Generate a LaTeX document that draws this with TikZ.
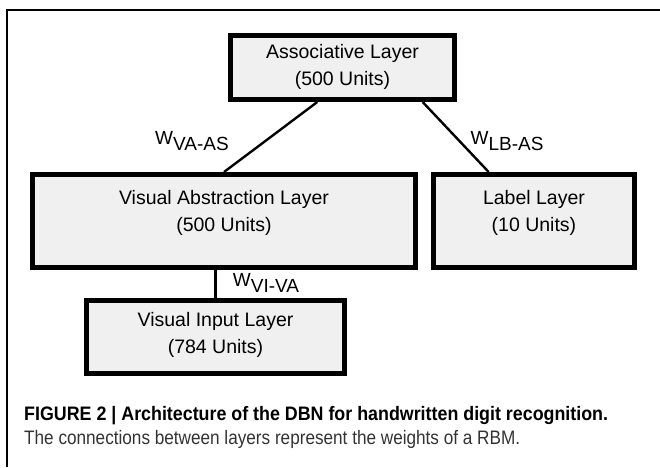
\documentclass[tikz,border=0pt]{standalone}
\usepackage{fontspec}
\setmainfont{Liberation Sans}
\newfontfamily\capboldfont[FakeStretch=0.915]{Liberation Sans}
\newfontfamily\capfont[FakeStretch=0.88]{Liberation Sans}
\usetikzlibrary{calc}
\definecolor{boxfill}{HTML}{F0F0F0}
\definecolor{captext}{HTML}{333333}
\tikzset{
  layer/.style={draw=black, line width=5pt, fill=boxfill, inner sep=0pt},
  layertext/.style={align=center, inner sep=0pt,
    font=\fontsize{19.5}{27}\selectfont},
  conn/.style={draw=black, line width=2.4pt},
  wlabel/.style={font=\fontsize{19}{22}\selectfont, inner sep=0pt},
  frame/.style={draw=black, line width=2pt}
}
\newcommand{\wsub}[1]{W\raisebox{-0.3em}{#1}}
\begin{document}
\begin{tikzpicture}[x=1pt,y=-1pt]
  \useasboundingbox (0,0) rectangle (660,467);
  % open frame: top and left rules
  \coordinate (ftr) at (660,10);
  \coordinate (ftl) at (7,10);
  \coordinate (fbl) at (7,467);
  \draw[frame] (ftr) -- (ftl) -- (fbl);

  % layer boxes
  \node[layer, minimum width=224pt, minimum height=64pt] (assoc) at (342.5,67.5) {};
  \node[layer, minimum width=383pt, minimum height=93pt] (va) at (224,221) {};
  \node[layer, minimum width=201pt, minimum height=93pt] (lb) at (534,221) {};
  \node[layer, minimum width=258pt, minimum height=73pt] (vi) at (215.5,337) {};

  % layer names
  \node[layertext] (assoc-t) at ($(assoc.center)+(0,-1)$) {Associative Layer\\(500 Units)};
  \node[layertext] (va-t) at ($(va.center)+(0,-8)$) {Visual Abstraction Layer\\(500 Units)};
  \node[layertext] (lb-t) at ($(lb.center)+(0,-8)$) {Label Layer\\(10 Units)};
  \node[layertext] (vi-t) at ($(vi.center)+(0,-2)$) {Visual Input Layer\\(784 Units)};

  % weight connections
  \draw[conn] ($(assoc.south west)!0.39!(assoc.south east)$) -- (va.north);
  \draw[conn] ($(assoc.south west)!0.85!(assoc.south east)$)
    -- ($(lb.north west)!0.28!(lb.north east)$);
  \draw[conn] (vi.north) -- (vi.north |- va.south);

  % weight labels
  \node[wlabel] (wva) at (192,141) {\wsub{VA-AS}};
  \node[wlabel] (wlb) at (507,141) {\wsub{LB-AS}};
  \node[wlabel] (wvi) at (266,283) {\wsub{VI-VA}};

  % caption
  \node[anchor=base west, inner sep=0pt] (cap1) at (24,420)
    {\capboldfont\bfseries\fontsize{19.5}{22}\selectfont FIGURE 2 | Architecture of the DBN for handwritten digit recognition.};
  \node[anchor=base west, inner sep=0pt, text=captext] (cap2) at (24,444)
    {\capfont\fontsize{19.5}{22}\selectfont The connections between layers represent the weights of a RBM.};
\end{tikzpicture}
\end{document}
